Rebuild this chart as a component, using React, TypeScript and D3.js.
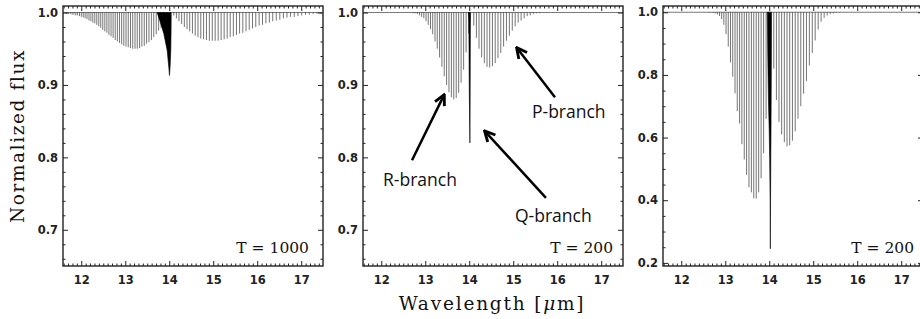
import React, { useEffect, useRef } from "react";
import * as d3 from "d3";

// line centres [um], R-branch ordered outward from the band centre, P-branch likewise
const rBranchWave = [
  13.987, 13.929, 13.872, 13.815, 13.759, 13.704, 13.648, 13.594, 13.539, 13.485,
  13.432, 13.378, 13.326, 13.273, 13.222, 13.17, 13.119, 13.068, 13.018, 12.968,
  12.919, 12.87, 12.821, 12.772, 12.724, 12.677, 12.629, 12.582, 12.536, 12.489,
  12.443, 12.398, 12.353, 12.308, 12.263, 12.219, 12.175, 12.131, 12.088, 12.045,
  12.002, 11.96, 11.917, 11.876, 11.834, 11.793, 11.752, 11.711, 11.671, 11.631, 11.591,
];
const pBranchWave = [
  14.103, 14.163, 14.222, 14.282, 14.343, 14.404, 14.465, 14.527, 14.59, 14.653,
  14.717, 14.781, 14.846, 14.912, 14.978, 15.044, 15.112, 15.179, 15.248, 15.317,
  15.386, 15.457, 15.528, 15.599, 15.672, 15.745, 15.818, 15.893, 15.967, 16.043,
  16.12, 16.197, 16.275, 16.353, 16.433, 16.513, 16.594, 16.676, 16.758, 16.842,
  16.926, 17.011, 17.097, 17.184, 17.272, 17.36, 17.45,
];

// T = 1000
const rFluxHot = [
  0.995, 0.989, 0.984, 0.979, 0.975, 0.97, 0.966, 0.962, 0.959, 0.957,
  0.954, 0.953, 0.951, 0.95, 0.95, 0.95, 0.951, 0.952, 0.953, 0.954,
  0.956, 0.958, 0.96, 0.962, 0.965, 0.967, 0.969, 0.972, 0.974, 0.976,
  0.979, 0.981, 0.983, 0.985, 0.986, 0.988, 0.989, 0.991, 0.992, 0.993,
  0.994, 0.995, 0.996, 0.996, 0.997, 0.997, 0.998, 0.998, 0.998, 0.999, 0.999,
];
const pFluxHot = [
  0.996, 0.992, 0.988, 0.984, 0.98, 0.977, 0.974, 0.971, 0.968, 0.966,
  0.964, 0.963, 0.962, 0.961, 0.961, 0.961, 0.961, 0.962, 0.963, 0.964,
  0.966, 0.967, 0.969, 0.971, 0.972, 0.974, 0.976, 0.978, 0.98, 0.982,
  0.983, 0.985, 0.986, 0.988, 0.989, 0.99, 0.992, 0.993, 0.994, 0.994,
  0.995, 0.996, 0.997, 0.997, 0.998, 0.998, 0.998,
];
const qWaveHot = [13.724, 13.784, 13.875, 13.952, 13.989, 14.005, 14.02, 14.035, 14.042, 14.045];
const qFluxHot = [1.0, 0.989, 0.971, 0.948, 0.925, 0.913, 0.925, 0.948, 0.975, 1.0];

// T = 200 (middle panel)
const rFluxCold = [
  0.971, 0.945, 0.921, 0.903, 0.889, 0.882, 0.88, 0.883, 0.89, 0.9,
  0.912, 0.925, 0.938, 0.95, 0.96, 0.97, 0.977, 0.983, 0.988, 0.992,
  0.994, 0.996, 0.998, 0.999, 0.999,
];
const pFluxCold = [
  0.982, 0.965, 0.95, 0.938, 0.93, 0.925, 0.924, 0.926, 0.93, 0.937,
  0.944, 0.953, 0.961, 0.968, 0.975, 0.981, 0.986, 0.989, 0.992, 0.995,
  0.996, 0.998, 0.999, 0.999,
];
const qWaveCold = [13.98, 13.99, 13.995, 14.0, 14.005, 14.015, 14.02, 14.025, 14.03];
const qFluxCold = [1.0, 0.99, 0.95, 0.9, 0.87, 0.82, 0.87, 0.97, 1.0];

// T = 200 (right panel, deeper)
const rFluxDeep = [
  0.8, 0.66, 0.55, 0.47, 0.425, 0.405, 0.406, 0.425, 0.441, 0.481,
  0.53, 0.579, 0.645, 0.684, 0.741, 0.794, 0.84, 0.89, 0.93, 0.96,
  0.978, 0.988, 0.993, 0.996, 0.998, 0.999, 0.999,
];
const pFluxDeep = [
  0.82, 0.72, 0.65, 0.61, 0.585, 0.572, 0.575, 0.59, 0.62, 0.66,
  0.7, 0.74, 0.78, 0.83, 0.87, 0.91, 0.945, 0.97, 0.982, 0.99,
  0.994, 0.996, 0.998, 0.999,
];
const qWaveDeep = [13.955, 13.96, 13.965, 13.975, 13.985, 14.0, 14.01, 14.02, 14.025, 14.03, 14.035, 14.04, 14.045, 14.05, 14.052];
const qFluxDeep = [1.0, 0.95, 0.88, 0.78, 0.7, 0.62, 0.53, 0.4, 0.245, 0.4, 0.53, 0.62, 0.75, 0.9, 1.0];

const xTicks = [12, 13, 14, 15, 16, 17];
const yTicksShallow = [0.7, 0.8, 0.9, 1.0];
const yTicksDeep = [0.2, 0.4, 0.6, 0.8, 1.0];
const tempLabels = ["T = 1000", "T = 200", "T = 200"];

// annotations in the middle panel (wavelength, flux)
const branchNames = ["R-branch", "Q-branch", "P-branch"];
const branchTextAt = [[12.04, 0.76], [15.04, 0.711], [15.426, 0.854]];
const arrowTail = [[12.699, 0.796], [15.744, 0.744], [15.949, 0.883]];
const arrowHead = [[13.426, 0.886], [14.358, 0.836], [15.085, 0.951]];

const W = 920;
const H = 319;
const TOP = 6;
const BOTTOM = 266;
const PW = 260;
const waveDomain = [11.585, 17.495];

const panels = [
  { left: 63, yDomain: [0.65, 1.009], yTicks: yTicksShallow, minor: [66, 101, 2, 10], r: rFluxHot, p: pFluxHot, qw: qWaveHot, qf: qFluxHot, inset: 14 },
  { left: 363, yDomain: [0.65, 1.009], yTicks: yTicksShallow, minor: [66, 101, 2, 10], r: rFluxCold, p: pFluxCold, qw: qWaveCold, qf: qFluxCold, inset: 10 },
  { left: 663, yDomain: [0.19, 1.02], yTicks: yTicksDeep, minor: [20, 101, 5, 20], r: rFluxDeep, p: pFluxDeep, qw: qWaveDeep, qf: qFluxDeep, inset: 9 },
];

const tickFont = "'DejaVu Sans', sans-serif";
const serifFont = "'DejaVu Serif', serif";

export default function App() {
  const svgRef = useRef<SVGSVGElement>(null);

  useEffect(() => {
    const svg = d3.select(svgRef.current);
    svg.selectAll("*").remove();

    svg
      .append("defs")
      .append("marker")
      .attr("id", "arrowhead")
      .attr("viewBox", "0 0 10 10")
      .attr("refX", 8.5)
      .attr("refY", 5)
      .attr("markerWidth", 13)
      .attr("markerHeight", 13)
      .attr("markerUnits", "userSpaceOnUse")
      .attr("orient", "auto")
      .append("path")
      .attr("d", "M 1 1 L 9 5 L 1 9")
      .attr("fill", "none")
      .attr("stroke", "black")
      .attr("stroke-width", 2.2);

    const scales: any[] = [];

    panels.forEach((cfg, pi) => {
      const g = svg.append("g");
      const x = d3.scaleLinear().domain(waveDomain).range([cfg.left, cfg.left + PW]);
      const y = d3.scaleLinear().domain(cfg.yDomain).range([BOTTOM, TOP]);
      scales.push({ x, y });

      // continuum
      g.append("line")
        .attr("x1", cfg.left)
        .attr("x2", cfg.left + PW)
        .attr("y1", y(1))
        .attr("y2", y(1))
        .attr("stroke", "#555")
        .attr("stroke-width", 0.8);

      const lines = [
        ...cfg.r.map((f, i) => ({ w: rBranchWave[i], f })),
        ...cfg.p.map((f, i) => ({ w: pBranchWave[i], f })),
      ];
      g.append("g")
        .selectAll("line")
        .data(lines)
        .join("line")
        .attr("x1", (d) => x(d.w))
        .attr("x2", (d) => x(d.w))
        .attr("y1", y(1))
        .attr("y2", (d) => y(d.f))
        .attr("stroke", "#000")
        .attr("stroke-width", 0.55);

      // Q-branch, too dense to resolve
      const qData = cfg.qw.map((w, i) => ({ w, f: cfg.qf[i] }));
      const area = d3
        .area<{ w: number; f: number }>()
        .x((d) => x(d.w))
        .y0(y(1))
        .y1((d) => y(d.f));
      g.append("path")
        .datum(qData)
        .attr("d", area)
        .attr("fill", "#000")
        .attr("stroke", "#000")
        .attr("stroke-width", 0.6)
        .attr("stroke-linejoin", "round");

      const minorX = d3.range(116, 175).filter((k) => k % 10 !== 0).map((k) => k / 10);
      const [m0, m1, ms, mm] = cfg.minor;
      const minorY = d3.range(m0, m1, ms).filter((k) => k % mm !== 0).map((k) => k / 100);

      const addAxis = (axis: any, transform: string) => {
        const a = g.append("g").attr("transform", transform).call(axis);
        a.select(".domain").remove();
        a.selectAll("line").attr("stroke", "#222").attr("stroke-width", 1);
        a.attr("font-family", tickFont).attr("font-size", 11.5).attr("font-weight", "bold");
        a.selectAll("text").attr("fill", "#222");
        return a;
      };
      const none = () => "";

      addAxis(d3.axisBottom(x).tickValues(xTicks).tickSize(-5).tickPadding(10).tickFormat(d3.format("d")), `translate(0,${BOTTOM})`);
      addAxis(d3.axisBottom(x).tickValues(minorX).tickSize(-2.5).tickFormat(none), `translate(0,${BOTTOM})`);
      addAxis(d3.axisTop(x).tickValues(xTicks).tickSize(-5).tickFormat(none), `translate(0,${TOP})`);
      addAxis(d3.axisTop(x).tickValues(minorX).tickSize(-2.5).tickFormat(none), `translate(0,${TOP})`);
      addAxis(d3.axisLeft(y).tickValues(cfg.yTicks).tickSize(-5).tickPadding(5).tickFormat(d3.format(".1f")), `translate(${cfg.left},0)`);
      addAxis(d3.axisLeft(y).tickValues(minorY).tickSize(-2.5).tickFormat(none), `translate(${cfg.left},0)`);
      addAxis(d3.axisRight(y).tickValues(cfg.yTicks).tickSize(-5).tickFormat(none), `translate(${cfg.left + PW},0)`);
      addAxis(d3.axisRight(y).tickValues(minorY).tickSize(-2.5).tickFormat(none), `translate(${cfg.left + PW},0)`);

      g.append("rect")
        .attr("x", cfg.left)
        .attr("y", TOP)
        .attr("width", PW)
        .attr("height", BOTTOM - TOP)
        .attr("fill", "none")
        .attr("stroke", "#222")
        .attr("stroke-width", 1.4);

      g.append("text")
        .attr("x", cfg.left + PW - cfg.inset)
        .attr("y", 252.7)
        .attr("text-anchor", "end")
        .attr("font-family", serifFont)
        .attr("font-size", 15.5)
        .attr("fill", "#111")
        .text(tempLabels[pi]);
    });

    // annotations on the middle panel
    const { x, y } = scales[1];
    branchNames.forEach((name, i) => {
      svg
        .append("line")
        .attr("x1", x(arrowTail[i][0]))
        .attr("y1", y(arrowTail[i][1]))
        .attr("x2", x(arrowHead[i][0]))
        .attr("y2", y(arrowHead[i][1]))
        .attr("stroke", "black")
        .attr("stroke-width", 2.5)
        .attr("marker-end", "url(#arrowhead)");
      svg
        .append("text")
        .attr("x", x(branchTextAt[i][0]))
        .attr("y", y(branchTextAt[i][1]))
        .attr("font-family", "'Open Sans', sans-serif")
        .attr("font-size", 17.5)
        .attr("fill", "#111")
        .text(name);
    });

    // axis titles
    svg
      .append("text")
      .attr("transform", `translate(24,136) rotate(-90)`)
      .attr("text-anchor", "middle")
      .attr("font-family", serifFont)
      .attr("font-size", 18.5)
      .attr("letter-spacing", 1.6)
      .attr("fill", "#111")
      .text("Normalized flux");

    const xt = svg
      .append("text")
      .attr("x", 492)
      .attr("y", 310)
      .attr("text-anchor", "middle")
      .attr("font-family", serifFont)
      .attr("font-size", 18.5)
      .attr("letter-spacing", 1.8)
      .attr("fill", "#111");
    xt.append("tspan").text("Wavelength [");
    xt.append("tspan").attr("font-style", "italic").text("\u03bc");
    xt.append("tspan").text("m]");
  }, []);

  return (
    <svg
      ref={svgRef}
      width={W}
      height={H}
      style={{ position: "absolute", left: 0, top: 0, background: "#fff" }}
    ></svg>
  );
}
